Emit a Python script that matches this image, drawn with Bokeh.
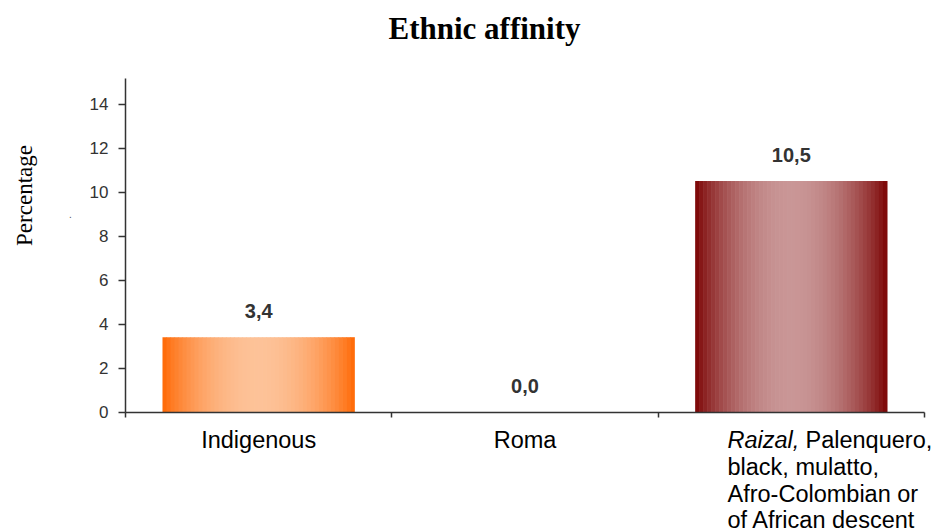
import math
from bokeh.plotting import figure
from bokeh.models import FixedTicker, Range1d, Label, ColumnDataSource
from bokeh.core.properties import value
from bokeh.embed import file_html
from bokeh.resources import INLINE

# ---- data ----
categories = ["Indigenous", "Roma", "Raizal, Palenquero, black, mulatto, Afro-Colombian or of African descent"]
values = [3.4, 0.0, 10.5]
value_labels = ["3,4", "0,0", "10,5"]
y_ticks = [0, 2, 4, 6, 8, 10, 12, 14]
title_text = "Ethnic affinity"
y_title = "Percentage"

# ---- layout constants (pixels) ----
W, H = 936, 532
OFF = 0                           # page offset of the figure
AX_X0, AX_X1 = 125.0, 924.0       # x-axis extent
AX_Y0 = 411.5                     # y pixel of value 0
PX_Y = 22.0                       # pixels per unit on y
Y_AXIS_TOP = 15.16
TXT_SHIFT = 10                    # baseline correction for text rendering
PX_X = (AX_X1 - AX_X0) / 3.0
X_MIN = -0.5 - (AX_X0 - OFF) / PX_X
X_MAX = X_MIN + W / PX_X
Y_TOP = (AX_Y0 - OFF) / PX_Y
Y_BOT = Y_TOP - H / PX_Y

def dx(px):
    return X_MIN + (px - OFF) / PX_X

def dy(py):
    return (AX_Y0 - py) / PX_Y

p = figure(width=W, height=H, output_backend="svg", toolbar_location=None,
           x_range=Range1d(X_MIN, X_MAX), y_range=Range1d(Y_BOT, Y_TOP),
           min_border_left=0, min_border_right=0, min_border_top=0, min_border_bottom=0)
p.outline_line_color = None
p.grid.visible = False
p.background_fill_color = "white"
p.border_fill_color = "white"

# ---- gradient bars ----
BAR_W = 0.72
N = 48
edges = [(255, 102, 0), (255, 102, 0), (122, 0, 0)]
centers = [(253, 194, 152), (253, 194, 152), (201, 150, 150)]

def mix(a, b, t):
    return "#%02x%02x%02x" % tuple(int(round(a[i] + (b[i] - a[i]) * t)) for i in range(3))

xs, tops, cols, ws = [], [], [], []
for i, v in enumerate(values):
    if v <= 0:
        continue
    for k in range(N):
        t = (k + 0.5) / N
        g = math.sin(math.pi * t) ** 0.8
        xs.append(i - BAR_W / 2 + t * BAR_W)
        tops.append(v)
        cols.append(mix(edges[i], centers[i], g))
        ws.append(BAR_W / N * 1.15)
src = ColumnDataSource(dict(x=xs, top=tops, color=cols, w=ws))
p.vbar(x="x", top="top", width="w", bottom=0, fill_color="color", line_color=None, source=src)

# value labels
vsrc = ColumnDataSource(dict(x=list(range(len(values))), y=values, t=value_labels))
p.text(x="x", y="y", text="t", source=vsrc, text_align="center", text_baseline="alphabetic",
       y_offset=-16 - TXT_SHIFT, text_font_size="20px", text_font_style="bold",
       text_color="#333333", text_font=value("Liberation Sans"))

# ---- axes ----
ya = p.yaxis[0]
ya.fixed_location = -0.5
ya.bounds = (0, Y_AXIS_TOP)
ya.ticker = FixedTicker(ticks=y_ticks)
ya.major_tick_in = 0
ya.major_tick_out = 7
ya.minor_tick_line_color = None
ya.axis_line_color = "#333333"
ya.axis_line_width = 1.5
ya.major_tick_line_color = "#333333"
ya.major_tick_line_width = 1.5
ya.major_label_text_font = "Liberation Sans"
ya.major_label_text_font_size = "17px"
ya.major_label_text_color = "#333333"
ya.major_label_standoff = 10

xa = p.xaxis[0]
xa.fixed_location = 0
xa.bounds = (-0.5, 2.5)
xa.ticker = FixedTicker(ticks=[-0.5, 0.5, 1.5, 2.5])
xa.major_label_overrides = {-0.5: " ", 0.5: " ", 1.5: " ", 2.5: " "}
xa.major_tick_in = 0
xa.major_tick_out = 5
xa.minor_tick_line_color = None
xa.axis_line_color = "#333333"
xa.axis_line_width = 1.5
xa.major_tick_line_color = "#333333"
xa.major_tick_line_width = 1.5

# ---- y title ----
p.add_layout(Label(x=dx(24), y=dy(195), text=y_title, angle=math.pi / 2, text_align="center",
                   text_baseline="middle", text_font="Liberation Serif",
                   text_font_size="23px", text_color="black"))
p.add_layout(Label(x=dx(70), y=dy(213), text=".", text_align="center",
                   text_baseline="middle", text_font="Liberation Sans",
                   text_font_size="10px", text_color="#555555"))

# ---- title ----
p.add_layout(Label(x=dx(484), y=dy(38 - TXT_SHIFT), text=title_text, text_align="center",
                   text_baseline="alphabetic", text_font="Liberation Serif",
                   text_font_style="bold", text_font_size="31px", text_color="black"))

# ---- category labels ----
CAT_FONT = "23.5px"
base = 449.5 - TXT_SHIFT
p.add_layout(Label(x=0, y=dy(base), text=categories[0], text_align="center",
                   text_baseline="alphabetic", text_font="Liberation Sans",
                   text_font_size=CAT_FONT, text_color="black"))
p.add_layout(Label(x=1, y=dy(base), text=categories[1], text_align="center",
                   text_baseline="alphabetic", text_font="Liberation Sans",
                   text_font_size=CAT_FONT, text_color="black"))
third_lines = ["Raizal,", "Palenquero,", "black, mulatto,", "Afro-Colombian or", "of African descent"]
x3 = dx(727)
p.add_layout(Label(x=x3, y=dy(base), text=third_lines[0], text_align="left",
                   text_baseline="alphabetic", text_font="Liberation Sans",
                   text_font_style="italic", text_font_size=CAT_FONT, text_color="black"))
p.add_layout(Label(x=x3, y=dy(base), x_offset=78, text=third_lines[1], text_align="left",
                   text_baseline="alphabetic", text_font="Liberation Sans",
                   text_font_size=CAT_FONT, text_color="black"))
LINE = 26.8
for j, line in enumerate(third_lines[2:], start=1):
    p.add_layout(Label(x=x3, y=dy(base + j * LINE), text=line, text_align="left",
                       text_baseline="alphabetic", text_font="Liberation Sans",
                       text_font_size=CAT_FONT, text_color="black"))

open("out.html", "w").write(file_html(p, INLINE))
